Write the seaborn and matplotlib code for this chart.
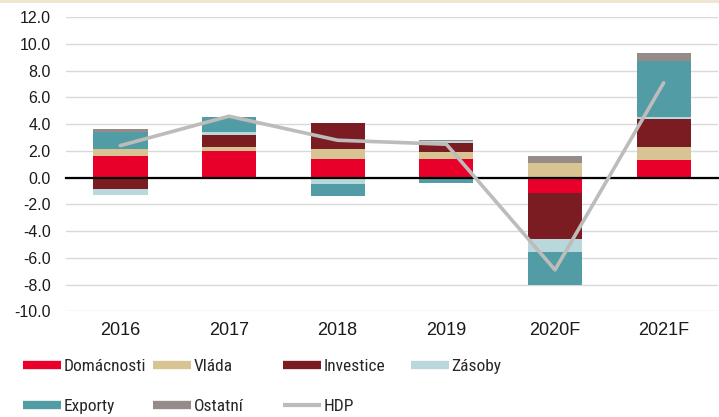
import numpy as np
import matplotlib
matplotlib.use("Agg")
import matplotlib.pyplot as plt
from matplotlib.lines import Line2D
from matplotlib.patches import Rectangle
from matplotlib.ticker import FormatStrFormatter
import seaborn as sns

# ---- data ----
years = ["2016", "2017", "2018", "2019", "2020F", "2021F"]
domacnosti = [1.62, 2.00, 1.40, 1.40, -1.14, 1.32]
vlada = [0.53, 0.30, 0.75, 0.52, 1.10, 0.98]
investice = [-0.85, 0.89, 1.94, 0.67, -3.44, 2.09]
zasoby = [-0.44, 0.23, -0.47, 0.15, -0.98, 0.15]
exporty = [1.27, 1.12, -0.90, -0.40, -2.44, 4.19]
ostatni = [0.22, 0.00, 0.00, 0.07, 0.52, 0.60]
hdp = [2.4, 4.6, 2.8, 2.5, -6.9, 7.1]

series_names = ["Domácnosti", "Vláda", "Investice", "Zásoby", "Exporty", "Ostatní"]
series_vals = [domacnosti, vlada, investice, zasoby, exporty, ostatni]
colors = ["#E8002A", "#D8C393", "#7B1C22", "#B8D8DC", "#529CA6", "#958B89"]
hdp_color = "#BEBBBB"

sns.set_theme(style="white")
plt.rcParams["font.family"] = ["Liberation Sans", "DejaVu Sans"]
plt.rcParams["axes.unicode_minus"] = False

W, H = 719, 417
fig = plt.figure(figsize=(W / 100, H / 100), dpi=100)
fig.patch.set_facecolor("white")
fig.patches.append(Rectangle((0, 1 - 3 / H), 1, 3 / H, transform=fig.transFigure,
                             facecolor="#EFE6D2", edgecolor="none"))

ax = fig.add_axes([66 / W, 1 - 311.3 / H, (718 - 66) / W, (311.3 - 17.3) / H])
x = np.arange(len(years))

pos_bottom = np.zeros(len(years))
neg_bottom = np.zeros(len(years))
for name, vals, c in zip(series_names, series_vals, colors):
    v = np.array(vals, dtype=float)
    bottoms = np.where(v >= 0, pos_bottom, neg_bottom)
    ax.bar(x, v, bottom=bottoms, width=0.5, color=c, edgecolor="none", zorder=2)
    pos_bottom = pos_bottom + np.where(v > 0, v, 0)
    neg_bottom = neg_bottom + np.where(v < 0, v, 0)

sns.lineplot(x=x, y=hdp, ax=ax, color=hdp_color, lw=2.6, legend=False, zorder=4)

ax.set_xlim(-0.5, 5.5)
ax.set_ylim(-10, 12)
ax.set_yticks(np.arange(-10, 13, 2))
ax.yaxis.set_major_formatter(FormatStrFormatter("%.1f"))
ax.tick_params(axis="y", length=0, pad=11, labelsize=11.5, labelcolor="#1a1a1a")
ax.yaxis.grid(True, color="#D9D9D9", lw=1)
ax.set_axisbelow(True)
for s in ["left", "right", "top"]:
    ax.spines[s].set_visible(False)
ax.spines["bottom"].set_position(("data", 0))
ax.spines["bottom"].set_color("black")
ax.spines["bottom"].set_linewidth(1.6)
ax.spines["bottom"].set_zorder(3)
ax.set_xticks(np.arange(-0.5, 6, 1))
ax.set_xticklabels([])
ax.tick_params(axis="x", direction="out", length=5, width=1.5, color="black")
ax.set_xlabel("")
ax.set_ylabel("")

sec = ax.secondary_xaxis(location=0)
sec.set_xticks(x)
sec.set_xticklabels(years)
sec.tick_params(length=0, pad=8, labelsize=13, labelcolor="#1a1a1a")
sec.spines["bottom"].set_visible(False)

# legends: one per column
leg_size = 12.5
handles = [Line2D([0], [0], color=c, lw=6, solid_capstyle="butt") for c in colors]
hdp_handle = Line2D([0], [0], color=hdp_color, lw=3, solid_capstyle="butt")
cols = [
    ([handles[0], handles[4]], [series_names[0], series_names[4]], 23),
    ([handles[1], handles[5]], [series_names[1], series_names[5]], 153),
    ([handles[2], hdp_handle], [series_names[2], "HDP"], 283),
    ([handles[3]], [series_names[3]], 411),
]
for hs, ls, px in cols:
    fig.legend(hs, ls, loc="upper left", bbox_to_anchor=(px / W, 1 - 359 / H),
               frameon=False,
               prop={"family": ["Roboto Condensed", "DejaVu Sans"], "size": leg_size},
               handlelength=38 / (leg_size * 1.389), handletextpad=0.15,
               borderpad=0, borderaxespad=0, labelspacing=1.45)

fig.savefig("out.png", dpi=100, facecolor="white")
